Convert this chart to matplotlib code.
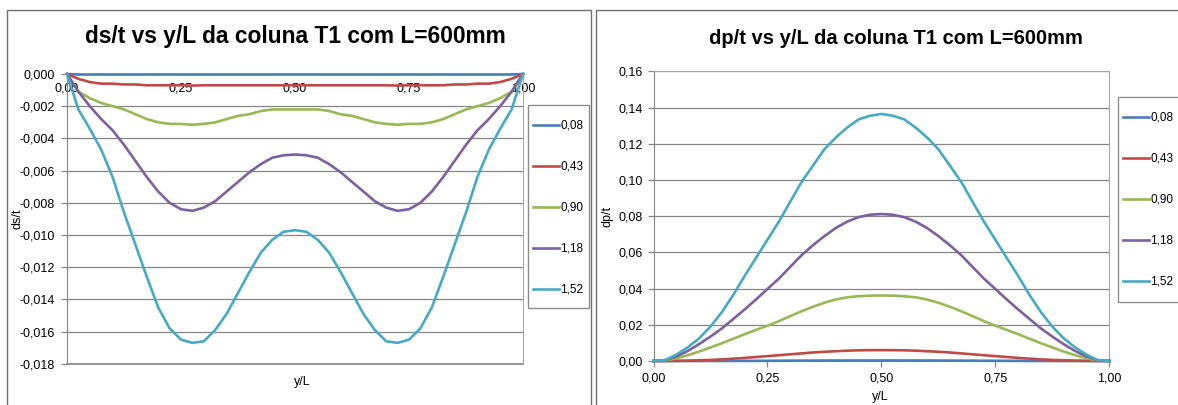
import numpy as np
import matplotlib
matplotlib.use("Agg")
import matplotlib.pyplot as plt
from matplotlib.patches import Rectangle
from matplotlib.ticker import FuncFormatter, MultipleLocator

plt.rcParams['font.family'] = ['Liberation Sans', 'DejaVu Sans']

W, H = 1178, 405

# ---------------- data ----------------
y_L = np.linspace(0.0, 1.0, 41)
series_labels = ["0,08", "0,43", "0,90", "1,18", "1,52"]
colors = ["#4A7EBB", "#BE4B48", "#98B954", "#7D60A0", "#46AAC5"]

ds_008 = [0, -0.00003, -0.00003, -0.00003, -0.00003, -0.00003, -0.00003, -0.00003, -0.00003, -0.00003,
          -0.00003, -0.00003, -0.00003, -0.00003, -0.00003, -0.00003, -0.00003, -0.00003, -0.00003, -0.00003,
          -0.00003, -0.00003, -0.00003, -0.00003, -0.00003, -0.00003, -0.00003, -0.00003, -0.00003, -0.00003,
          -0.00003, -0.00003, -0.00003, -0.00003, -0.00003, -0.00003, -0.00003, -0.00003, -0.00003, -0.00003, 0]
ds_043 = [0, -0.0003, -0.0005, -0.0006, -0.0006, -0.00065, -0.00065, -0.0007, -0.0007, -0.0007,
          -0.0007, -0.00072, -0.0007, -0.0007, -0.0007, -0.0007, -0.0007, -0.0007, -0.0007, -0.0007,
          -0.0007, -0.0007, -0.0007, -0.0007, -0.0007, -0.0007, -0.0007, -0.0007, -0.0007, -0.00072,
          -0.0007, -0.0007, -0.0007, -0.0007, -0.00065, -0.00065, -0.0006, -0.0006, -0.0005, -0.0003, 0]
ds_090 = [0, -0.0011, -0.0015, -0.0018, -0.0020, -0.0022, -0.0025, -0.0028, -0.0030, -0.0031,
          -0.0031, -0.00315, -0.0031, -0.0030, -0.0028, -0.0026, -0.0025, -0.0023, -0.0022, -0.0022,
          -0.0022, -0.0022, -0.0022, -0.0023, -0.0025, -0.0026, -0.0028, -0.0030, -0.0031, -0.00315,
          -0.0031, -0.0031, -0.0030, -0.0028, -0.0025, -0.0022, -0.0020, -0.0018, -0.0015, -0.0011, 0]
ds_118 = [0, -0.0011, -0.0020, -0.0028, -0.0035, -0.0044, -0.0054, -0.0064, -0.0073, -0.0080,
          -0.0084, -0.0085, -0.0083, -0.0079, -0.0073, -0.0067, -0.0061, -0.0056, -0.0052, -0.00505,
          -0.0050, -0.00505, -0.0052, -0.0056, -0.0061, -0.0067, -0.0073, -0.0079, -0.0083, -0.0085,
          -0.0084, -0.0080, -0.0073, -0.0064, -0.0054, -0.0044, -0.0035, -0.0028, -0.0020, -0.0011, 0]
ds_152 = [0, -0.0022, -0.0034, -0.0047, -0.0064, -0.0086, -0.0106, -0.0126, -0.0145, -0.0158,
          -0.0165, -0.0167, -0.0166, -0.0159, -0.0149, -0.0136, -0.0123, -0.0111, -0.0103, -0.0098,
          -0.0097, -0.0098, -0.0103, -0.0111, -0.0123, -0.0136, -0.0149, -0.0159, -0.0166, -0.0167,
          -0.0165, -0.0158, -0.0145, -0.0126, -0.0106, -0.0086, -0.0064, -0.0047, -0.0034, -0.0022, 0]

dp_008 = [0, 0, 0, 0, 0.00001, 0.00002, 0.00003, 0.00005, 0.00007, 0.0001,
          0.00012, 0.00015, 0.00018, 0.0002, 0.00023, 0.00025, 0.00027, 0.00028, 0.00029, 0.0003,
          0.0003, 0.0003, 0.00029, 0.00028, 0.00027, 0.00025, 0.00023, 0.0002, 0.00018, 0.00015,
          0.00012, 0.0001, 0.00007, 0.00005, 0.00003, 0.00002, 0.00001, 0, 0, 0, 0]
dp_043 = [0, 0, 0.0001, 0.0002, 0.0004, 0.0006, 0.0009, 0.0013, 0.0017, 0.0022,
          0.0027, 0.0032, 0.0037, 0.0042, 0.0047, 0.0051, 0.0054, 0.0057, 0.0059, 0.0060,
          0.0060, 0.0060, 0.0059, 0.0057, 0.0054, 0.0051, 0.0047, 0.0042, 0.0037, 0.0032,
          0.0027, 0.0022, 0.0017, 0.0013, 0.0009, 0.0006, 0.0004, 0.0002, 0.0001, 0, 0]
dp_090 = [0, 0.0002, 0.0015, 0.0032, 0.0052, 0.0075, 0.0098, 0.0123, 0.0148, 0.0172,
          0.0195, 0.0220, 0.0248, 0.0275, 0.0300, 0.0322, 0.0340, 0.0352, 0.0358, 0.0361,
          0.0362, 0.0361, 0.0358, 0.0352, 0.0340, 0.0322, 0.0300, 0.0275, 0.0248, 0.0220,
          0.0195, 0.0172, 0.0148, 0.0123, 0.0098, 0.0075, 0.0052, 0.0032, 0.0015, 0.0002, 0]
dp_118 = [0, 0.0003, 0.0025, 0.0055, 0.0093, 0.0135, 0.0180, 0.0232, 0.0285, 0.0340,
          0.0398, 0.0455, 0.0520, 0.0585, 0.0640, 0.0690, 0.0735, 0.0770, 0.0795, 0.0808,
          0.0812, 0.0808, 0.0795, 0.0770, 0.0735, 0.0690, 0.0640, 0.0585, 0.0520, 0.0455,
          0.0398, 0.0340, 0.0285, 0.0232, 0.0180, 0.0135, 0.0093, 0.0055, 0.0025, 0.0003, 0]
dp_152 = [0, 0.0005, 0.0035, 0.0075, 0.0125, 0.0190, 0.0270, 0.0365, 0.0470, 0.0570,
          0.0670, 0.0770, 0.0880, 0.0990, 0.1080, 0.1170, 0.1235, 0.1290, 0.1335, 0.1355,
          0.1365, 0.1355, 0.1335, 0.1290, 0.1235, 0.1170, 0.1080, 0.0990, 0.0880, 0.0770,
          0.0670, 0.0570, 0.0470, 0.0365, 0.0270, 0.0190, 0.0125, 0.0075, 0.0035, 0.0005, 0]

ds_series = [ds_008, ds_043, ds_090, ds_118, ds_152]
dp_series = [dp_008, dp_043, dp_090, dp_118, dp_152]

# ---------------- helpers ----------------
def fx(px):
    return px / W

def fy(py):
    return 1 - py / H

def comma(fmt):
    def f(v, pos):
        if abs(v) < 1e-12:
            v = 0.0
        return (fmt % v).replace('.', ',')
    return FuncFormatter(f)

GRID = "#868686"
BORDER = "#A6A6A6"
TICKFS = 9

fig = plt.figure(figsize=(W / 100, H / 100), dpi=100)

# outer chart frames
fig.patches.append(Rectangle((fx(7), fy(420)), fx(591) - fx(7), fy(10) - fy(420),
                             transform=fig.transFigure, fill=False, ec="#707070", lw=1))
fig.patches.append(Rectangle((fx(596), fy(420)), fx(1190) - fx(596), fy(10) - fy(420),
                             transform=fig.transFigure, fill=False, ec="#707070", lw=1))

# ---------------- left chart ----------------
axL = fig.add_axes([fx(67), fy(363.8), fx(523) - fx(67), fy(74) - fy(363.8)])
for vals, c, lab in zip(ds_series, colors, series_labels):
    axL.plot(y_L, vals, color=c, lw=1.9, label=lab, solid_joinstyle='round', clip_on=False, zorder=3)
axL.set_xlim(0, 1)
axL.set_ylim(-0.018, 0)
axL.yaxis.set_major_locator(MultipleLocator(0.002))
axL.xaxis.set_major_locator(MultipleLocator(0.25))
axL.yaxis.set_major_formatter(comma("%.3f"))
axL.xaxis.set_major_formatter(comma("%.2f"))
axL.grid(axis='y', color=GRID, lw=0.9)
axL.set_axisbelow(True)
axL.spines['bottom'].set_position(('data', 0))
axL.spines['bottom'].set_color(GRID)
axL.spines['top'].set_visible(False)
axL.spines['right'].set_color(BORDER)
axL.spines['left'].set_color(GRID)
axL.tick_params(axis='y', direction='out', length=4, width=0.9, color=GRID, pad=5, labelsize=TICKFS)
axL.tick_params(axis='x', direction='out', length=0, pad=6, labelsize=TICKFS)
axL.set_ylabel("ds/t", fontsize=9)
axL.yaxis.set_label_coords(-0.095, 0.5)
axL.set_xlabel("y/L", fontsize=9)
axL.xaxis.set_label_coords(0.515, -0.042)
# bottom border of plot area
axL.axhline(-0.018, color=GRID, lw=1.2, zorder=1, clip_on=False)
fig.text(fx(295.5), fy(36), "ds/t vs y/L da coluna T1 com L=600mm", fontsize=16.4,
         fontweight='bold', ha='center', va='center')

# legend left
fig.patches.append(Rectangle((fx(528), fy(308)), fx(589) - fx(528), fy(105) - fy(308),
                             transform=fig.transFigure, fill=False, ec="#8C8C8C", lw=1))
axL.legend(loc='upper left', bbox_to_anchor=(fx(533), fy(120)), bbox_transform=fig.transFigure,
           frameon=False, fontsize=8.5, borderpad=0, borderaxespad=0, handlelength=2.2,
           handletextpad=0.1, labelspacing=2.45)

# ---------------- right chart ----------------
axR = fig.add_axes([fx(653.5), fy(361), fx(1109.3) - fx(653.5), fy(71.4) - fy(361)])
for vals, c, lab in zip(dp_series, colors, series_labels):
    axR.plot(y_L, vals, color=c, lw=1.9, label=lab, solid_joinstyle='round', clip_on=False, zorder=3)
axR.set_xlim(0, 1)
axR.set_ylim(0, 0.16)
axR.yaxis.set_major_locator(MultipleLocator(0.02))
axR.xaxis.set_major_locator(MultipleLocator(0.25))
axR.yaxis.set_major_formatter(comma("%.2f"))
axR.xaxis.set_major_formatter(comma("%.2f"))
axR.grid(axis='y', color=GRID, lw=0.9)
axR.set_axisbelow(True)
for s in ['top', 'right']:
    axR.spines[s].set_color(BORDER)
for s in ['left', 'bottom']:
    axR.spines[s].set_color(GRID)
axR.tick_params(axis='both', direction='out', length=4, width=0.9, color=GRID, pad=4, labelsize=TICKFS)
axR.set_ylabel("dp/t", fontsize=9)
axR.yaxis.set_label_coords(-0.087, 0.5)
axR.set_xlabel("y/L", fontsize=9)
axR.xaxis.set_label_coords(0.498, -0.104)
fig.text(fx(895.5), fy(39), "dp/t vs y/L da coluna T1 com L=600mm", fontsize=14.5,
         fontweight='bold', ha='center', va='center')

fig.patches.append(Rectangle((fx(1118), fy(302)), fx(1190) - fx(1118), fy(97) - fy(302),
                             transform=fig.transFigure, fill=False, ec="#8C8C8C", lw=1))
axR.legend(loc='upper left', bbox_to_anchor=(fx(1123), fy(112)), bbox_transform=fig.transFigure,
           frameon=False, fontsize=8.5, borderpad=0, borderaxespad=0, handlelength=2.2,
           handletextpad=0.1, labelspacing=2.45)

fig.savefig("out.png", dpi=100)
